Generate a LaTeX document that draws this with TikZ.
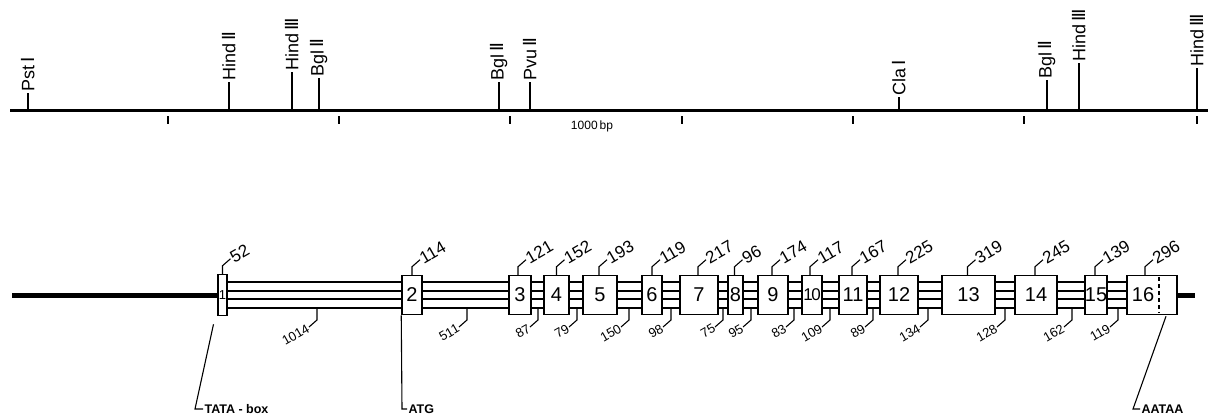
\documentclass[tikz,border=0pt]{standalone}
\usepackage{fontspec}
\setmainfont{Liberation Sans}
\newfontfamily\rnfont{DejaVu Sans}
\newcommand\rnum[1]{{\rnfont #1}}
\begin{document}
\begin{tikzpicture}[x=1pt,y=-1pt,
  mapline/.style={line width=3pt},
  sitetick/.style={line width=1.4pt},
  sitelabel/.style={rotate=90, anchor=west, inner sep=1pt, font=\fontsize{18}{18}\selectfont},
  scaletick/.style={line width=1.1pt},
  exonbox/.style={draw, fill=white, line width=1.5pt, minimum height=39pt, inner sep=0pt, font=\fontsize{20}{20}\selectfont},
  intronouter/.style={line width=2.4pt},
  introninner/.style={line width=1.5pt},
  flank/.style={line width=5pt},
  leader/.style={line width=1.1pt},
  toplabel/.style={rotate=30, anchor=west, inner sep=0.5pt, font=\fontsize{17}{17}\selectfont},
  botlabel/.style={rotate=30, anchor=east, inner sep=0.5pt, font=\fontsize{13}{13}\selectfont},
  annot/.style={anchor=west, inner sep=1pt, font=\bfseries\fontsize{12.5}{12.5}\selectfont}]
\useasboundingbox (0,0) rectangle (1210,418);

% restriction map
\coordinate (mapL) at (10,110);
\coordinate (mapR) at (1208,110);
\draw[mapline] (mapL) -- (mapR);
\foreach \x/\t/\l in {28/93/{Pst\,\rnum{Ⅰ}}, 229/82/{Hind\,\rnum{Ⅱ}}, 292/72/{Hind\,\rnum{Ⅲ}},
   319/78/{Bgl\,\rnum{Ⅱ}}, 499/82/{Bgl\,\rnum{Ⅱ}}, 530/82/{Pvu\,\rnum{Ⅱ}}, 899/97/{Cla\,\rnum{Ⅰ}},
   1047/80/{Bgl\,\rnum{Ⅱ}}, 1079/63/{Hind\,\rnum{Ⅲ}}, 1197/68/{Hind\,\rnum{Ⅲ}}}
  \draw[sitetick] (\x,110) -- (\x,\t) node[sitelabel]{\l};
\foreach \x in {168,339,510,682,853,1024,1197}
  \draw[scaletick] (\x,116) -- (\x,124);
\node[font=\fontsize{12}{12}\selectfont, inner sep=0pt] (scale) at (592,126) {1000\,bp};

% gene
\coordinate (geneL) at (12,295);
\coordinate (geneR) at (1195,295);
\foreach \i/\c/\w in {1/222.5/9, 2/412/20, 3/520/22, 4/556.5/25, 5/600/34, 6/652/20, 7/699/38,
   8/735.5/15, 9/773/30, 10/812/20, 11/853/28, 12/899/38, 13/968.5/53, 14/1036/42, 15/1096/22, 16/1152/50}
  \coordinate (c\i) at (\c,295);
\draw[flank] (geneL) -- (c1);
\draw[flank] (c16) -- (geneR);
\foreach \a/\b in {1/2,2/3,3/4,4/5,5/6,6/7,7/8,8/9,9/10,10/11,11/12,12/13,13/14,14/15,15/16} {
  \draw[intronouter] ([yshift=13pt]c\a) -- ([yshift=13pt]c\b);
  \draw[introninner] ([yshift=4pt]c\a) -- ([yshift=4pt]c\b);
  \draw[introninner] ([yshift=-4pt]c\a) -- ([yshift=-4pt]c\b);
  \draw[intronouter] ([yshift=-13pt]c\a) -- ([yshift=-13pt]c\b);
}
\node[exonbox, minimum width=9pt, minimum height=41pt, font=\fontsize{13}{13}\selectfont] (e1) at (c1) {1};
\foreach \i/\w in {2/20, 3/22, 4/25, 5/34, 6/20, 7/38, 8/15, 9/30, 11/28, 12/38, 13/53, 14/42, 15/22}
  \node[exonbox, minimum width=\w pt] (e\i) at (c\i) {\i};
\node[exonbox, minimum width=20pt, font=\fontsize{17}{17}\selectfont] (e10) at (c10) {1\kern-1.5pt0};
\node[exonbox, minimum width=50pt] (e16) at (c16) {};
\node[font=\fontsize{20}{20}\selectfont, inner sep=0pt] (n16) at ([xshift=-9pt]c16) {16};
\draw[dashed, line width=1.3pt, dash pattern=on 4pt off 3pt] ([xshift=7pt,yshift=-2pt]e16.north) -- ([xshift=7pt,yshift=2pt]e16.south);

% exon sizes (above)
\foreach \i/\s/\l in {1/0/52, 2/0/114, 3/-2/121, 4/0/152, 5/-1/193, 6/0/119, 7/-1/217, 8/-1/96,
   9/-1/174, 10/-2/117, 11/-1/167, 12/-1/225, 13/-1/319, 14/-1/245, 15/-1/139, 16/-7/296}
  \draw[leader] ([xshift=\s pt]e\i.north) -- ++(0,-8) -- ++(8,-7) node[toplabel]{\l};

% intron sizes (below)
\foreach \x/\l in {317/1014, 467/511, 538/87, 577/79, 629/150, 671/98, 723/75, 751/95, 794/83,
   830/109, 873/89, 928/134, 1005/128, 1072/162, 1118/119}
  \draw[leader] (\x,309) -- ++(0,11) -- ++(-8,7) node[botlabel]{\l};

% annotations
\coordinate (tata) at (195,409);
\coordinate (atg) at (402,409);
\coordinate (aataa) at (1133,409);
\draw[leader] ([xshift=-9pt,yshift=-8pt]e1.south) -- (tata) -- ++(8,0) node[annot]{TATA - box};
\draw[leader] (e2.south west) -- (atg) -- ++(5,0) node[annot]{ATG};
\draw[leader] ([xshift=14pt,yshift=-1pt]e16.south) -- (aataa) -- ++(7,0) node[annot]{AATAA};
\end{tikzpicture}
\end{document}
